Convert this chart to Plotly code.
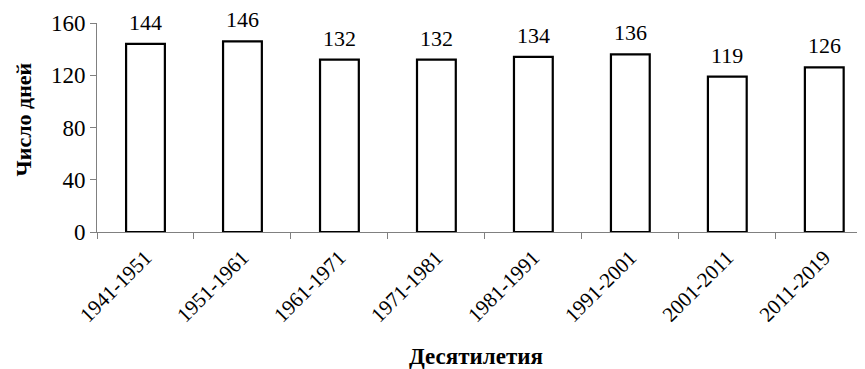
import plotly.graph_objects as go

categories = ["1941-1951", "1951-1961", "1961-1971", "1971-1981",
              "1981-1991", "1991-2001", "2001-2011", "2011-2019"]
values = [144, 146, 132, 132, 134, 136, 119, 126]
y_ticks = [0, 40, 80, 120, 160]

fig = go.Figure(go.Bar(
    x=categories, y=values,
    marker=dict(color="white", line=dict(color="black", width=2.2)),
    width=0.4,
))

annotations = [
    dict(x=c, y=v, xref="x", yref="y", text=str(v), showarrow=False,
         yanchor="bottom", yshift=7,
         font=dict(family="Liberation Serif", size=22, color="black"))
    for c, v in zip(categories, values)
]
annotations.append(dict(x=0.494, y=-0.595, xref="paper", yref="paper",
                        text="<b>Десятилетия</b>", showarrow=False,
                        xanchor="center", yanchor="middle",
                        font=dict(family="Liberation Serif", size=23, color="black")))
annotations.append(dict(x=-0.096, y=0.54, xref="paper", yref="paper",
                        text="<b>Число дней</b>", showarrow=False, textangle=-90,
                        xanchor="center", yanchor="middle", borderpad=0,
                        font=dict(family="Liberation Serif", size=22, color="black")))

# page body has an 8px default margin, so the figure is shrunk by 8px
fig.update_layout(
    width=857, height=361,
    margin=dict(l=89, r=0, t=15, b=137),
    plot_bgcolor="white", paper_bgcolor="white",
    showlegend=False,
    font=dict(family="Liberation Serif", color="black"),
    annotations=annotations,
)
fig.update_xaxes(
    type="category", tickson="boundaries", range=[-0.5, 7.42],
    automargin=False,
    showline=True, linecolor="#808080", linewidth=1,
    ticks="outside", ticklen=6, tickcolor="#808080",
    tickangle=-45, tickfont=dict(family="Liberation Serif", size=21),
    ticklabelstandoff=4,
    showgrid=False,
)
fig.update_yaxes(
    range=[0, 160], tickvals=y_ticks, automargin=False,
    showline=True, linecolor="#808080", linewidth=1,
    ticks="outside", ticklen=6, tickcolor="#808080",
    tickfont=dict(family="Liberation Serif", size=23),
    showgrid=False, zeroline=False,
)

fig.write_html("out.html")
